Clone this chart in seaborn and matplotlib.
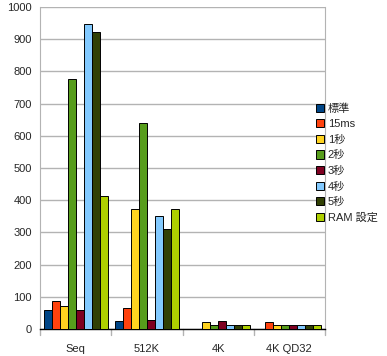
import pandas as pd
import matplotlib
matplotlib.use("Agg")
import matplotlib.pyplot as plt
import seaborn as sns
from matplotlib.patches import Patch

categories = ["Seq", "512K", "4K", "4K QD32"]
series = ["標準", "15ms", "1秒", "2秒", "3秒", "4秒", "5秒", "RAM 設定"]
colors = ["#004586", "#ff420e", "#ffd320", "#579d1c", "#7e0021", "#83caff", "#314004", "#aecf00"]

val_std = [60, 25, 1, 1]
val_15ms = [87, 65, 1, 21]
val_1s = [72, 373, 23, 12]
val_2s = [776, 640, 12, 12]
val_3s = [60, 28, 25, 12]
val_4s = [947, 351, 12, 12]
val_5s = [922, 311, 12, 12]
val_ram = [413, 373, 12, 12]
all_vals = [val_std, val_15ms, val_1s, val_2s, val_3s, val_4s, val_5s, val_ram]

rows = []
for s, vals in zip(series, all_vals):
    for c, v in zip(categories, vals):
        rows.append({"cat": c, "series": s, "value": v})
df = pd.DataFrame(rows)

sns.set_style("white")
plt.rcParams["font.family"] = ["Liberation Sans", "Noto Sans CJK JP", "DejaVu Sans"]

fig = plt.figure(figsize=(3.87, 3.56), dpi=100)
ax = fig.add_axes([40 / 387, 1 - 329 / 356, 285 / 387, 322 / 356])

sns.barplot(data=df, x="cat", y="value", hue="series", order=categories,
            hue_order=series, palette=colors, width=0.9, saturation=1,
            edgecolor="black", linewidth=0.7, ax=ax, legend=False, zorder=3)

ax.set_ylim(0, 1000)
ax.set_xlim(-0.5, 3.5)
ax.set_yticks(range(0, 1001, 100))
ax.yaxis.grid(True, color="#b3b3b3", linewidth=1, zorder=0)
ax.set_axisbelow(True)
ax.set_xlabel("")
ax.set_ylabel("")
ax.tick_params(axis="y", labelsize=8, length=0, pad=6)
ax.set_xticks(range(len(categories)))
ax.set_xticklabels(categories, fontsize=8)
ax.tick_params(axis="x", length=0, pad=11)
# short category boundary marks below the axis
for xb in [-0.5, 0.5, 1.5, 2.5, 3.5]:
    ax.plot([xb, xb], [0, -0.02], transform=ax.get_xaxis_transform(),
            color="#b3b3b3", lw=1, clip_on=False)
for side in ["left", "right"]:
    ax.spines[side].set_color("#b3b3b3")
ax.spines["top"].set_visible(False)
ax.spines["bottom"].set_color("black")
ax.spines["bottom"].set_linewidth(1)

handles = [Patch(facecolor=c, edgecolor="black", linewidth=0.7) for c in colors]
fig.legend(handles, series, loc="center left", bbox_to_anchor=(316 / 387, 1 - 163 / 356),
           frameon=False, fontsize=8, handlelength=0.75, handleheight=0.75,
           handletextpad=0.3, labelspacing=0.5, borderpad=0, borderaxespad=0)

fig.savefig("out.png", dpi=100)
